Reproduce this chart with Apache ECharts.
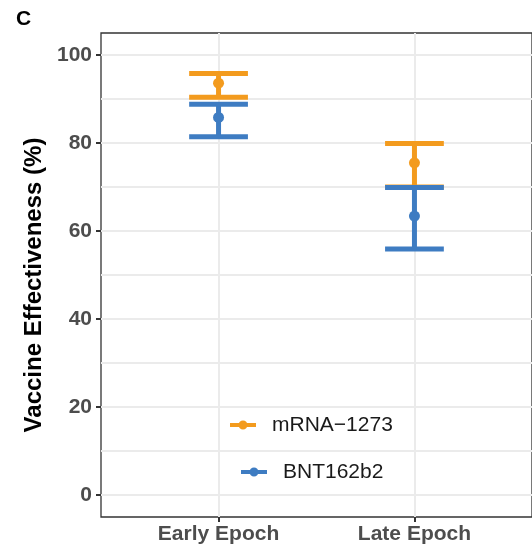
<!DOCTYPE html>
<html>
<head>
<meta charset="utf-8">
<script src="https://cdn.jsdelivr.net/npm/echarts@6/dist/echarts.min.js"></script>
<style>html,body{margin:0;padding:0;background:#fff}#c{width:532px;height:546px}</style>
</head>
<body>
<div id="c"></div>
<script>
const categories = ['Early Epoch', 'Late Epoch'];
const vaccines = ['mRNA-1273', 'BNT162b2'];
const mrnaVE = [93.6, 75.5];
const mrnaLower = [90.4, 70.0];
const mrnaUpper = [95.8, 79.9];
const bntVE = [85.8, 63.4];
const bntLower = [81.4, 55.9];
const bntUpper = [88.8, 69.9];
const yTicks = [0, 20, 40, 60, 80, 100];
const yGrid = [0, 10, 20, 30, 40, 50, 60, 70, 80, 90, 100];

const colors = ['#F39B1E', '#3E7CC2'];
const FONT = '"Liberation Sans", Arial, Helvetica, sans-serif';

function errData(lo, hi) {
  return categories.map((c, i) => [i + 1, 0, lo[i], hi[i]]);
}
function ptData(v) {
  return categories.map((c, i) => [i + 1, v[i]]);
}
function makeErr(color) {
  return function (params, api) {
    const x = api.value(0), lo = api.value(2), hi = api.value(3);
    const pLo = api.coord([x, lo]);
    const pHi = api.coord([x, hi]);
    const hw = api.size([1, 0])[0] * 0.15;
    const st = { stroke: color, lineWidth: 5, fill: null };
    return {
      type: 'group',
      children: [
        { type: 'line', shape: { x1: pHi[0], y1: pHi[1], x2: pLo[0], y2: pLo[1] }, style: st },
        { type: 'line', shape: { x1: pHi[0] - hw, y1: pHi[1], x2: pHi[0] + hw, y2: pHi[1] }, style: st },
        { type: 'line', shape: { x1: pLo[0] - hw, y1: pLo[1], x2: pLo[0] + hw, y2: pLo[1] }, style: st }
      ]
    };
  };
}

const legendIcon = 'path://M0,2.5L26,2.5L26,6.5L0,6.5Z M13,0A4.5,4.5 0 1 1 13,9A4.5,4.5 0 1 1 13,0Z';
function legendFor(name, left, top) {
  return {
    data: [name], left: left, top: top, padding: 0, orient: 'vertical',
    selectedMode: false, icon: legendIcon, itemWidth: 26, itemHeight: 9,
    formatter: n => n.replace('-', '\u2212'),
    textStyle: { fontFamily: FONT, fontSize: 21, color: '#1A1A1A', lineHeight: 22, padding: [0, 0, 0, 11] }
  };
}

const chart = echarts.init(document.getElementById('c'), null, { renderer: 'canvas' });
chart.setOption({
  animation: false,
  backgroundColor: '#fff',
  title: { text: 'C', left: 16, top: 9, padding: 0, textStyle: { fontFamily: FONT, fontSize: 21, fontWeight: 'bold', color: '#000' } },
  grid: { left: 101, right: -2, top: 33, bottom: 29, show: true, borderColor: '#333', borderWidth: 1.3, backgroundColor: 'transparent' },
  legend: [legendFor(vaccines[0], 230, 414), legendFor(vaccines[1], 241, 461)],
  xAxis: {
    type: 'value', min: 0.4, max: 2.6,
    axisLine: { show: false, onZero: false },
    axisTick: { show: true, customValues: [1, 2], length: 5, lineStyle: { color: '#333', width: 2 } },
    axisLabel: { customValues: [1, 2], formatter: v => categories[Math.round(v) - 1] || '', margin: 7,
      fontFamily: FONT, fontSize: 21, fontWeight: 'bold', color: '#4D4D4D' },
    splitLine: { show: true, lineStyle: { color: '#EBEBEB', width: 2 } }
  },
  yAxis: [{
    type: 'value', min: -5, max: 105, position: 'left',
    name: 'Vaccine Effectiveness (%)', nameLocation: 'middle', nameGap: 49,
    nameTextStyle: { fontFamily: FONT, fontSize: 24, fontWeight: 'bold', color: '#000', padding: [0, 20, 0, 0] },
    axisLine: { show: false, onZero: false },
    axisTick: { show: false, customValues: yGrid },
    axisLabel: { customValues: yTicks, margin: 9, fontFamily: FONT, fontSize: 21, fontWeight: 'bold', color: '#4D4D4D' },
    splitLine: { show: true, lineStyle: { color: '#EBEBEB', width: 2 } }
  }, {
    type: 'value', min: -5, max: 105, position: 'left',
    axisLine: { show: false, onZero: false },
    axisTick: { show: true, customValues: yTicks, length: 5, lineStyle: { color: '#333', width: 2 } },
    axisLabel: { show: false },
    splitLine: { show: false }
  }],
  series: [
    { name: vaccines[0], type: 'custom', renderItem: makeErr(colors[0]), data: errData(mrnaLower, mrnaUpper),
      itemStyle: { color: colors[0] }, encode: { x: 0, y: [2, 3] }, z: 2 },
    { name: vaccines[0], type: 'scatter', data: ptData(mrnaVE), symbolSize: 11, itemStyle: { color: colors[0], opacity: 1 }, z: 3 },
    { name: vaccines[1], type: 'custom', renderItem: makeErr(colors[1]), data: errData(bntLower, bntUpper),
      itemStyle: { color: colors[1] }, encode: { x: 0, y: [2, 3] }, z: 4 },
    { name: vaccines[1], type: 'scatter', data: ptData(bntVE), symbolSize: 11, itemStyle: { color: colors[1], opacity: 1 }, z: 5 }
  ]
});
</script>
</body>
</html>
